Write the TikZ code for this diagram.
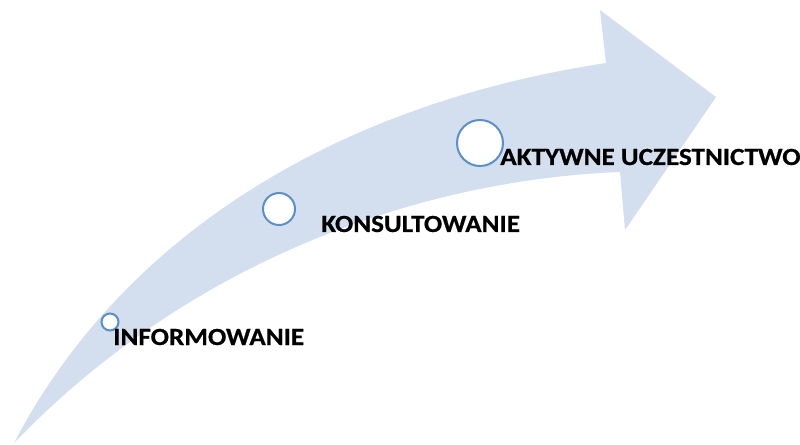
\documentclass[tikz,border=0pt]{standalone}
\usepackage{fontspec}
\setmainfont{Carlito}
\newfontfamily\lblfont{Carlito}[FakeStretch=1.1,FakeBold=0.6]
\definecolor{arrowblue}{HTML}{D3DEEF}
\definecolor{ringblue}{HTML}{5A8FC8}
\begin{document}
\begin{tikzpicture}[x=0.75pt,y=-0.75pt,
  ring/.style={circle,draw=ringblue,line width=1.5pt,fill=white,inner sep=0pt},
  lbl/.style={anchor=base west,inner sep=0pt,font=\lblfont\bfseries\fontsize{18.5}{20}\selectfont,text=black}]
\useasboundingbox (0,0) rectangle (800,445);
% curved arrow
\fill[arrowblue] (14,443) .. controls (120,240) and (330,105) .. (606,63)
  -- (600,10) -- (716,97) -- (625,230) -- (620,172)
  .. controls (420,180) and (190,260) .. (14,443) -- cycle;
% circles
\node[ring,minimum size=46*0.75pt] (c3) at (480,143) {};
\node[ring,minimum size=32*0.75pt] (c2) at (279,209) {};
\node[ring,minimum size=17*0.75pt] (c1) at (110,322) {};
% labels
\node[lbl] (t3) at (500,165) {AKTYWNE UCZESTNICTWO};
\node[lbl] (t2) at (321,232) {KONSULTOWANIE};
\node[lbl] (t1) at (113,345) {INFORMOWANIE};
\end{tikzpicture}
\end{document}
